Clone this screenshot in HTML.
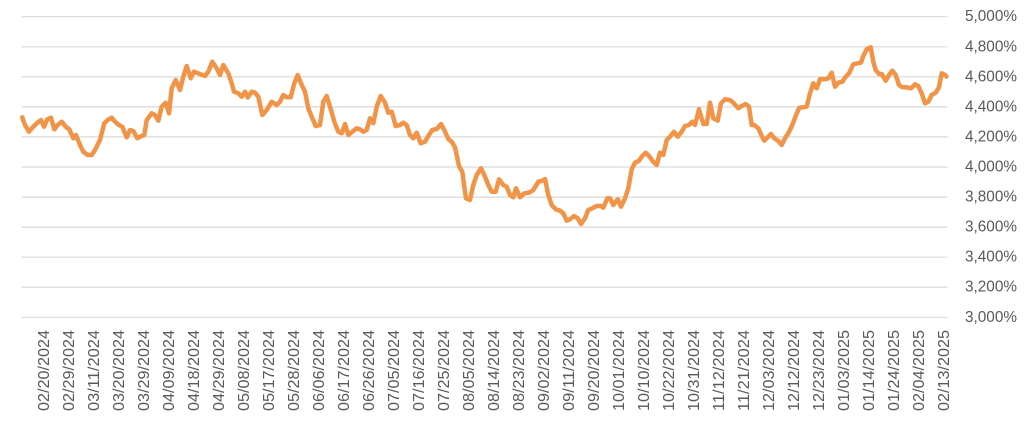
<!DOCTYPE html>
<html>
<head>
<meta charset="utf-8">
<style>
html,body{margin:0;padding:0;background:#fff;}
svg{display:block;}
text{font-family:"Liberation Sans",Arial,sans-serif;fill:#595959;}
</style>
</head>
<body>
<svg width="1030" height="429" viewBox="0 0 1030 429" xmlns="http://www.w3.org/2000/svg">
<rect width="1030" height="429" fill="#fff"/>
<g stroke="#D9D9D9" stroke-width="1.2">
<line x1="21.5" y1="16.7" x2="947.5" y2="16.7"/>
<line x1="21.5" y1="46.8" x2="947.5" y2="46.8"/>
<line x1="21.5" y1="76.8" x2="947.5" y2="76.8"/>
<line x1="21.5" y1="106.9" x2="947.5" y2="106.9"/>
<line x1="21.5" y1="136.9" x2="947.5" y2="136.9"/>
<line x1="21.5" y1="167.0" x2="947.5" y2="167.0"/>
<line x1="21.5" y1="197.1" x2="947.5" y2="197.1"/>
<line x1="21.5" y1="227.1" x2="947.5" y2="227.1"/>
<line x1="21.5" y1="257.2" x2="947.5" y2="257.2"/>
<line x1="21.5" y1="287.2" x2="947.5" y2="287.2"/>
<line x1="21.5" y1="317.3" x2="947.5" y2="317.3"/>
</g>
<g font-size="15.5" dominant-baseline="central">
<text x="965" y="16.7" textLength="52" lengthAdjust="spacingAndGlyphs">5,000%</text>
<text x="965" y="46.8" textLength="52" lengthAdjust="spacingAndGlyphs">4,800%</text>
<text x="965" y="76.8" textLength="52" lengthAdjust="spacingAndGlyphs">4,600%</text>
<text x="965" y="106.9" textLength="52" lengthAdjust="spacingAndGlyphs">4,400%</text>
<text x="965" y="136.9" textLength="52" lengthAdjust="spacingAndGlyphs">4,200%</text>
<text x="965" y="167.0" textLength="52" lengthAdjust="spacingAndGlyphs">4,000%</text>
<text x="965" y="197.1" textLength="52" lengthAdjust="spacingAndGlyphs">3,800%</text>
<text x="965" y="227.1" textLength="52" lengthAdjust="spacingAndGlyphs">3,600%</text>
<text x="965" y="257.2" textLength="52" lengthAdjust="spacingAndGlyphs">3,400%</text>
<text x="965" y="287.2" textLength="52" lengthAdjust="spacingAndGlyphs">3,200%</text>
<text x="965" y="317.3" textLength="52" lengthAdjust="spacingAndGlyphs">3,000%</text>
</g>
<g font-size="15.5" text-anchor="end" dominant-baseline="central">
<text transform="translate(44.7,330) rotate(-90)" textLength="81" lengthAdjust="spacingAndGlyphs">02/20/2024</text>
<text transform="translate(69.7,330) rotate(-90)" textLength="81" lengthAdjust="spacingAndGlyphs">02/29/2024</text>
<text transform="translate(94.7,330) rotate(-90)" textLength="81" lengthAdjust="spacingAndGlyphs">03/11/2024</text>
<text transform="translate(119.7,330) rotate(-90)" textLength="81" lengthAdjust="spacingAndGlyphs">03/20/2024</text>
<text transform="translate(144.7,330) rotate(-90)" textLength="81" lengthAdjust="spacingAndGlyphs">03/29/2024</text>
<text transform="translate(169.7,330) rotate(-90)" textLength="81" lengthAdjust="spacingAndGlyphs">04/09/2024</text>
<text transform="translate(194.7,330) rotate(-90)" textLength="81" lengthAdjust="spacingAndGlyphs">04/18/2024</text>
<text transform="translate(219.7,330) rotate(-90)" textLength="81" lengthAdjust="spacingAndGlyphs">04/29/2024</text>
<text transform="translate(244.7,330) rotate(-90)" textLength="81" lengthAdjust="spacingAndGlyphs">05/08/2024</text>
<text transform="translate(269.7,330) rotate(-90)" textLength="81" lengthAdjust="spacingAndGlyphs">05/17/2024</text>
<text transform="translate(294.7,330) rotate(-90)" textLength="81" lengthAdjust="spacingAndGlyphs">05/28/2024</text>
<text transform="translate(319.7,330) rotate(-90)" textLength="81" lengthAdjust="spacingAndGlyphs">06/06/2024</text>
<text transform="translate(344.7,330) rotate(-90)" textLength="81" lengthAdjust="spacingAndGlyphs">06/17/2024</text>
<text transform="translate(369.7,330) rotate(-90)" textLength="81" lengthAdjust="spacingAndGlyphs">06/26/2024</text>
<text transform="translate(394.7,330) rotate(-90)" textLength="81" lengthAdjust="spacingAndGlyphs">07/05/2024</text>
<text transform="translate(419.7,330) rotate(-90)" textLength="81" lengthAdjust="spacingAndGlyphs">07/16/2024</text>
<text transform="translate(444.7,330) rotate(-90)" textLength="81" lengthAdjust="spacingAndGlyphs">07/25/2024</text>
<text transform="translate(469.7,330) rotate(-90)" textLength="81" lengthAdjust="spacingAndGlyphs">08/05/2024</text>
<text transform="translate(494.7,330) rotate(-90)" textLength="81" lengthAdjust="spacingAndGlyphs">08/14/2024</text>
<text transform="translate(519.7,330) rotate(-90)" textLength="81" lengthAdjust="spacingAndGlyphs">08/23/2024</text>
<text transform="translate(544.7,330) rotate(-90)" textLength="81" lengthAdjust="spacingAndGlyphs">09/02/2024</text>
<text transform="translate(569.7,330) rotate(-90)" textLength="81" lengthAdjust="spacingAndGlyphs">09/11/2024</text>
<text transform="translate(594.7,330) rotate(-90)" textLength="81" lengthAdjust="spacingAndGlyphs">09/20/2024</text>
<text transform="translate(619.7,330) rotate(-90)" textLength="81" lengthAdjust="spacingAndGlyphs">10/01/2024</text>
<text transform="translate(644.7,330) rotate(-90)" textLength="81" lengthAdjust="spacingAndGlyphs">10/10/2024</text>
<text transform="translate(669.7,330) rotate(-90)" textLength="81" lengthAdjust="spacingAndGlyphs">10/22/2024</text>
<text transform="translate(694.7,330) rotate(-90)" textLength="81" lengthAdjust="spacingAndGlyphs">10/31/2024</text>
<text transform="translate(719.7,330) rotate(-90)" textLength="81" lengthAdjust="spacingAndGlyphs">11/12/2024</text>
<text transform="translate(744.7,330) rotate(-90)" textLength="81" lengthAdjust="spacingAndGlyphs">11/21/2024</text>
<text transform="translate(769.7,330) rotate(-90)" textLength="81" lengthAdjust="spacingAndGlyphs">12/03/2024</text>
<text transform="translate(794.7,330) rotate(-90)" textLength="81" lengthAdjust="spacingAndGlyphs">12/12/2024</text>
<text transform="translate(819.7,330) rotate(-90)" textLength="81" lengthAdjust="spacingAndGlyphs">12/23/2024</text>
<text transform="translate(844.7,330) rotate(-90)" textLength="81" lengthAdjust="spacingAndGlyphs">01/03/2025</text>
<text transform="translate(869.7,330) rotate(-90)" textLength="81" lengthAdjust="spacingAndGlyphs">01/14/2025</text>
<text transform="translate(894.7,330) rotate(-90)" textLength="81" lengthAdjust="spacingAndGlyphs">01/24/2025</text>
<text transform="translate(919.7,330) rotate(-90)" textLength="81" lengthAdjust="spacingAndGlyphs">02/04/2025</text>
<text transform="translate(944.7,330) rotate(-90)" textLength="81" lengthAdjust="spacingAndGlyphs">02/13/2025</text>
</g>
<polyline fill="none" stroke="#F29447" stroke-width="4.5" stroke-linejoin="round" stroke-linecap="round" points="22.3,117.3 25,125 29,131.7 33.3,126.7 36.7,123.3 41,120 44,126.7 47.3,119.3 51,117.7 54.3,129.3 57.7,125 61.7,121.7 65.7,126.7 69.3,129.3 73.3,138.3 76,135 80,145 83.3,151.7 87.7,155 91.7,155 95,150 100,140 104.3,123.3 107.7,120 111.7,117.7 115,121.7 119,125 122.3,126.7 126.7,137.3 130,130 133.3,131 137.3,138.3 141.7,136 144.3,135 146.7,120 151.7,113.3 155,115 158.3,120.7 161.7,106.7 165.7,102.7 169,113.3 171.7,88.3 175.7,80 180,90 183.3,76.7 186.7,66 190.7,78.3 194,71.7 198.3,73.3 205,76 208.3,71.7 212.3,61.7 216.7,68.3 220,75 223.3,65 228.3,73.3 231.7,83.3 234,91.7 238.3,93.3 241.7,96.7 245,91.7 247.7,97.5 251.7,91.7 255,92.7 258.3,96.7 262.3,115 266.7,110 271.7,101.7 276.7,105 280,101.7 283.3,95 286.7,97.3 290.7,97.3 294.3,83.3 297.7,75 301.7,85 305,91.7 308.3,108.3 311.7,116.7 315.7,126 320,125 323.3,101.7 326.7,96 331,110 334.3,121.7 338.3,131.7 341.7,133.3 345,124 348.3,135 352.3,131.7 356.7,128.3 360,129.3 363.3,131.7 366.7,130 370,118.3 373.3,123.3 376.7,106.7 380.7,96 385,102.7 388.3,112.7 391.7,111.7 395.7,126 400,125 403.3,122.7 406.7,125 410,135 413.3,138.3 416.7,132.7 420.7,143.3 425,141.7 428.3,136 432.3,130 436.7,129 441,124 444.3,130 448.3,139 451.7,141.7 455,147.3 459,166 462.3,171.7 464.3,186.7 466,198.3 470,200 473.3,185 476.7,175 481,168.3 485,176.7 488.3,185 491.7,191.7 495.7,191.7 499,179.3 503.3,185 506.7,186.7 510,195 513.3,197.3 516,188.3 520,197.3 524.3,193.3 529,192.7 533.3,190 538.3,181.7 541.7,181 545,179 548.3,195 551.7,205 555.7,209.3 560,210.7 563.3,213.3 566.7,220.7 570,219.3 574,216 577.7,218.3 581,224 585,218.3 588.3,210 592.3,208.3 596.7,206 601,206 603.3,207.7 607.3,198.3 610,198.3 613.3,205 617.7,199.3 621,206.7 625,198.3 628.3,188.3 631.7,169.3 635,162.7 639,160.7 642.3,156 645.7,152.7 649,156 653.3,161.7 656.7,165 660,152.7 663.3,155 666.7,140 670,136.7 674,131.7 677.7,136.7 681.7,131.7 685,126 689,125 692.3,121.7 695,125 699,109.3 703.3,124 706.7,124 710,102.7 713.3,118.3 717.7,120.7 721,103.3 725,99.3 730,100 733.3,102.7 738.3,108.3 741.7,106 745.7,104 749,106.7 751.7,125 754.3,125 758.3,128.3 761.7,136 764.3,140.7 767.7,137.3 771,134 774.3,138.3 778.3,141 781.7,145 785,138.3 788.3,133.3 792.3,125 795.7,116 799.3,107.7 803.3,107.3 806.7,106.7 810,93.3 813.3,83.3 816.7,88.3 820,79.3 825,79.3 828.3,78.3 831.7,72.7 835,86.7 838.3,82.7 842.3,81.7 845.7,76.7 849,73.3 853.3,64.3 857.7,63.3 861,62.7 863.3,56 866.7,49.3 870.7,47.3 873.3,61.7 875.7,70 879,74 881.7,74 885.7,80.7 889,75 892.3,70.7 895.7,75 899,85 902.3,87.3 906.7,87.3 911,88.3 915,84.3 918.3,86 921.7,93.3 925,103.3 928.3,101.7 931.7,95 935.7,92.7 939,87.3 941.7,73.3 945,75 946.5,76.5"/>
</svg>
</body>
</html>
